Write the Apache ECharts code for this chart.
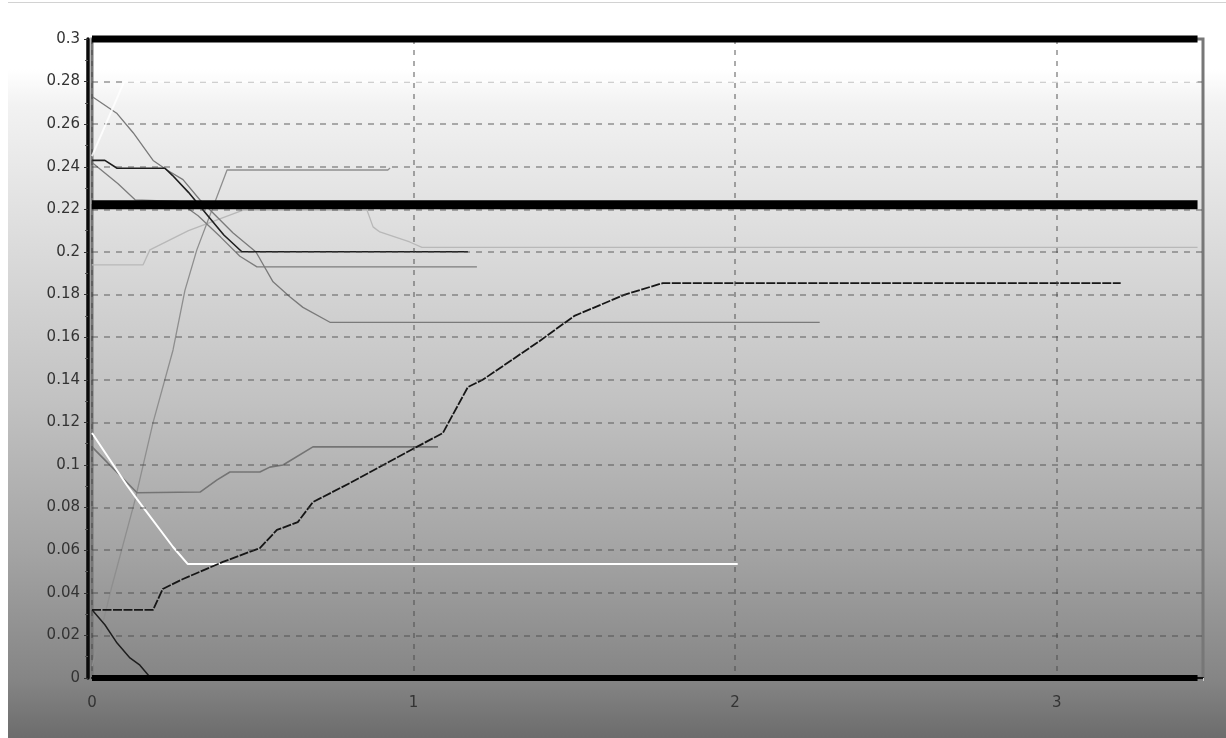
<!DOCTYPE html>
<html>
<head>
<meta charset="utf-8">
<script src="https://cdn.jsdelivr.net/npm/echarts@6/dist/echarts.min.js"></script>
<style>
  html, body { margin: 0; padding: 0; background: #ffffff; width: 1226px; height: 738px; overflow: hidden; }
  #chart { position: absolute; left: 8px; top: 2px; width: 1218px; height: 735px; border-top: 1px solid #d2d2d2; }
</style>
</head>
<body>
<div id="chart"></div>
<script>
// ---- data (x, y) ----
const refLevels = [0.3, 0.2222, 0];
const refEnd = 3.438;

const lineA = [[0,0.032],[0.19,0.032],[0.22,0.0418],[0.283,0.0465],[0.407,0.0545],[0.522,0.061],[0.575,0.0695],[0.64,0.0732],[0.687,0.0826],[0.802,0.0915],[1.01,0.1085],[1.091,0.115],[1.169,0.1366],[1.215,0.14],[1.39,0.158],[1.5,0.17],[1.657,0.18],[1.775,0.1854],[3.199,0.1854]];
const lineB = [[0,0.032],[0.04,0.025],[0.078,0.0164],[0.118,0.0094],[0.149,0.006],[0.18,0.0005]];
const lineWhite = [[0,0.115],[0.108,0.0906],[0.14,0.084],[0.252,0.0615],[0.298,0.0535],[2.008,0.0535]];
const lineC = [[0,0.1085],[0.14,0.087],[0.336,0.0873],[0.389,0.093],[0.429,0.0967],[0.522,0.0967],[0.553,0.099],[0.594,0.1],[0.687,0.1085],[1.076,0.1085]];
const lineD = [[0,0.005],[0.06,0.042],[0.134,0.0836],[0.19,0.12],[0.252,0.154],[0.289,0.182],[0.326,0.201],[0.42,0.2385],[0.92,0.2385],[0.927,0.2394]];
const lineE = [[0,0.273],[0.078,0.265],[0.128,0.256],[0.19,0.243],[0.233,0.2385],[0.283,0.234],[0.336,0.2244],[0.389,0.2164],[0.438,0.209],[0.51,0.2],[0.563,0.186],[0.615,0.179],[0.656,0.174],[0.74,0.167],[2.263,0.167]];
const lineF = [[0,0.243],[0.04,0.243],[0.078,0.2393],[0.227,0.2393],[0.25,0.236],[0.3,0.228],[0.355,0.218],[0.41,0.208],[0.466,0.2001],[1.169,0.2001]];
const lineF2 = [[0,0.242],[0.081,0.232],[0.134,0.2245],[0.267,0.2238],[0.33,0.217],[0.4,0.207],[0.46,0.198],[0.513,0.193],[1.197,0.193]];
const lineG = [[0,0.194],[0.159,0.194],[0.18,0.201],[0.3,0.21],[0.47,0.2197],[0.855,0.2197],[0.874,0.2118],[0.895,0.2094],[0.988,0.2047],[1.026,0.2022],[3.438,0.2022]];
const lineTopWhite = [[0,0.245],[0.1,0.28],[3.438,0.28]];

const chart = echarts.init(document.getElementById('chart'), null, { renderer: 'canvas' });

function thin(name, data, color, width, z, opacity, dash) {
  return {
    name: name, type: 'line', data: data, showSymbol: false, symbol: 'none',
    clip: false, z: z || 2, silent: true,
    lineStyle: { color: color, width: width, opacity: opacity == null ? 1 : opacity, type: dash || 'solid' }
  };
}

const refWidths = [7, 9, 6];
const series = refLevels.map((lv, i) => ({
  name: 'ref' + i, type: 'line', symbol: 'none', clip: false, z: 4, silent: true,
  data: [[0, lv], [refEnd, lv]],
  lineStyle: { color: '#000000', width: refWidths[i], cap: 'butt' }
}));

series.push(
  thin('G', lineG, '#b8b8b8', 1.3),
  thin('D', lineD, '#8e8e8e', 1.3),
  thin('E', lineE, '#7a7a7a', 1.3),
  thin('F2', lineF2, '#7c7c7c', 1.3),
  thin('F', lineF, '#1e1e1e', 1.6),
  thin('C', lineC, '#747474', 1.6),
  thin('White', lineWhite, '#ffffff', 2),
  thin('B', lineB, '#1e1e1e', 1.5),
  thin('A', lineA, '#161616', 1.8, 2, 1, [9, 1.5]),
  thin('TopWhite', lineTopWhite, '#ffffff', 2, 5, 0.8)
);

chart.setOption({
  animation: false,
  backgroundColor: {
    type: 'linear', x: 0, y: 0, x2: 0, y2: 1,
    colorStops: [
      { offset: 0, color: '#ffffff' },
      { offset: 0.09, color: '#ffffff' },
      { offset: 0.14, color: '#f2f2f2' },
      { offset: 0.34, color: '#dadada' },
      { offset: 0.54, color: '#c2c2c2' },
      { offset: 0.745, color: '#a4a4a4' },
      { offset: 0.92, color: '#858585' },
      { offset: 1, color: '#6c6c6c' }
    ]
  },
  grid: {
    left: 84, top: 36, right: 23, bottom: 60,
    show: true, borderColor: '#777777', borderWidth: 3, backgroundColor: 'transparent'
  },
  xAxis: {
    type: 'value', min: 0, max: 3.455, interval: 1, z: 3, offset: 5,
    axisLine: { show: true, lineStyle: { color: '#111111', width: 2 } },
    axisTick: { show: true, length: 3, lineStyle: { color: '#cfcfcf', width: 1 } },
    minorTick: { show: true, splitNumber: 4, length: 3, lineStyle: { color: '#cfcfcf', width: 1 } },
    axisLabel: { margin: 13, showMaxLabel: false, fontFamily: 'DejaVu Sans', fontSize: 15, color: '#333333' },
    splitLine: { show: true, showMaxLine: false, lineStyle: { color: 'rgba(70,70,70,0.6)', width: 1.5, type: [5, 6] } }
  },
  yAxis: {
    type: 'value', min: 0, max: 0.3, interval: 0.02, z: 3, offset: 4,
    axisLine: { show: true, onZero: false, lineStyle: { color: '#0a0a0a', width: 3.5 } },
    axisTick: { show: true, length: 4, lineStyle: { color: '#333333', width: 1 } },
    minorTick: { show: true, splitNumber: 2, length: 3, lineStyle: { color: '#555555', width: 1 } },
    axisLabel: { margin: 8, fontFamily: 'DejaVu Sans', fontSize: 15, color: '#333333' },
    splitLine: { show: true, showMinLine: false, showMaxLine: false, lineStyle: { color: 'rgba(70,70,70,0.55)', width: 1.5, type: [6, 6] } }
  },
  series: series
});
</script>
</body>
</html>
